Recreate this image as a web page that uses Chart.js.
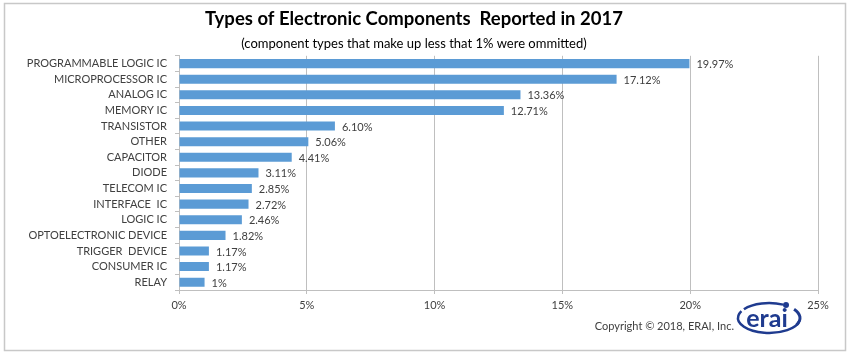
<!DOCTYPE html>
<html>
<head>
<meta charset="utf-8">
<script src="https://cdn.jsdelivr.net/npm/chart.js@4.4.1/dist/chart.umd.min.js"></script>
<style>
  html, body { margin: 0; padding: 0; background: #fff; }
  #wrap { width: 850px; height: 355px; position: relative; }
</style>
</head>
<body>
<div id="wrap"><canvas id="c" width="850" height="355"></canvas></div>
<script>
const categories = [
  "PROGRAMMABLE LOGIC IC", "MICROPROCESSOR IC", "ANALOG IC", "MEMORY IC",
  "TRANSISTOR", "OTHER", "CAPACITOR", "DIODE", "TELECOM IC", "INTERFACE  IC",
  "LOGIC IC", "OPTOELECTRONIC DEVICE", "TRIGGER  DEVICE", "CONSUMER IC", "RELAY"
];
const values = [19.97, 17.12, 13.36, 12.71, 6.10, 5.06, 4.41, 3.11, 2.85, 2.72, 2.46, 1.82, 1.17, 1.17, 1];
const valueLabels = ["19.97%", "17.12%", "13.36%", "12.71%", "6.10%", "5.06%", "4.41%", "3.11%", "2.85%", "2.72%", "2.46%", "1.82%", "1.17%", "1.17%", "1%"];
const xTicks = [0, 5, 10, 15, 20, 25];
const titleText = "Types of Electronic Components  Reported in 2017";
const subtitleText = "(component types that make up less that 1% were ommitted)";
const copyrightText = "Copyright \u00A9 2018, ERAI, Inc.";
const logoText = "erai";

const FONT = "Lato, 'Open Sans', sans-serif";

const decorPlugin = {
  id: 'decor',
  beforeDraw(chart) {
    const ctx = chart.ctx;
    ctx.save();
    ctx.fillStyle = '#fff';
    ctx.fillRect(0, 0, chart.width, chart.height);
    ctx.strokeStyle = '#C8C8C8';
    ctx.lineWidth = 1.5;
    ctx.strokeRect(4.5, 3.5, 841, 347);
    ctx.restore();
  },
  afterDatasetsDraw(chart) {
    const ctx = chart.ctx;
    const meta = chart.getDatasetMeta(0);
    ctx.save();
    ctx.font = "11px " + FONT;
    ctx.fillStyle = '#404040';
    ctx.textBaseline = 'middle';
    ctx.textAlign = 'left';
    meta.data.forEach((bar, i) => {
      ctx.fillText(valueLabels[i], bar.x + 7, bar.y + 1);
    });
    ctx.restore();
  },
  afterDraw(chart) {
    const ctx = chart.ctx;
    ctx.save();
    ctx.font = "11px " + FONT;
    ctx.fillStyle = '#404040';
    ctx.textBaseline = 'middle';
    ctx.textAlign = 'right';
    ctx.fillText(copyrightText, 734, 326);
    const cx = 769, cy = 318;
    ctx.strokeStyle = '#1F3B8F';
    ctx.fillStyle = '#1F3B8F';
    ctx.lineWidth = 2.5;
    ctx.beginPath();
    ctx.ellipse(cx, cy, 31, 15, 0, Math.PI * 0.05, Math.PI * 1.15);
    ctx.stroke();
    ctx.beginPath();
    ctx.ellipse(cx, cy, 31, 15, 0, Math.PI * 1.2, Math.PI * 1.65);
    ctx.stroke();
    ctx.lineWidth = 3;
    ctx.beginPath();
    ctx.ellipse(cx, cy, 31, 15, 0, Math.PI * 1.8, Math.PI * 2.15);
    ctx.stroke();
    ctx.beginPath();
    ctx.arc(786, 305, 3, 0, Math.PI * 2);
    ctx.fill();
    ctx.font = "bold 25px " + FONT;
    ctx.textAlign = 'center';
    ctx.textBaseline = 'alphabetic';
    ctx.fillText(logoText, cx - 2, 327);
    ctx.restore();
  }
};

new Chart(document.getElementById('c'), {
  type: 'bar',
  data: {
    labels: categories,
    datasets: [{
      data: values,
      backgroundColor: '#5B9BD5',
      borderColor: '#5B9BD5',
      borderWidth: 0,
      categoryPercentage: 1,
      barPercentage: 0.58
    }]
  },
  options: {
    indexAxis: 'y',
    responsive: false,
    animation: false,
    devicePixelRatio: 1,
    layout: { padding: { left: 10, right: 32, top: 6, bottom: 0 } },
    plugins: {
      legend: { display: false },
      tooltip: { enabled: false },
      title: {
        display: true,
        text: titleText,
        color: '#000',
        font: { family: FONT, size: 18.5, weight: 'bold' },
        padding: { top: 2, bottom: 6 }
      },
      subtitle: {
        display: true,
        text: subtitleText,
        color: '#000',
        font: { family: FONT, size: 13 },
        padding: { top: 0, bottom: 4 }
      }
    },
    scales: {
      x: {
        min: 0, max: 25,
        afterBuildTicks(scale) { scale.ticks = xTicks.map(v => ({ value: v })); },
        afterFit(scale) { scale.height = 355 - 290; },
        ticks: {
          color: '#404040',
          font: { family: FONT, size: 11 },
          padding: 5,
          callback: (v) => v + '%'
        },
        grid: { color: '#BFBFBF', lineWidth: 1, tickLength: 4, drawTicks: true },
        border: { color: '#BFBFBF', width: 1 }
      },
      y: {
        afterFit(scale) { scale.width = 179 - 10; },
        ticks: {
          color: '#404040',
          font: { family: FONT, size: 11 },
          padding: 8,
          autoSkip: false
        },
        grid: { offset: true, drawOnChartArea: false, drawTicks: true, tickLength: 4, color: '#BFBFBF' },
        border: { color: '#BFBFBF', width: 1 }
      }
    }
  },
  plugins: [decorPlugin]
});
</script>
</body>
</html>
